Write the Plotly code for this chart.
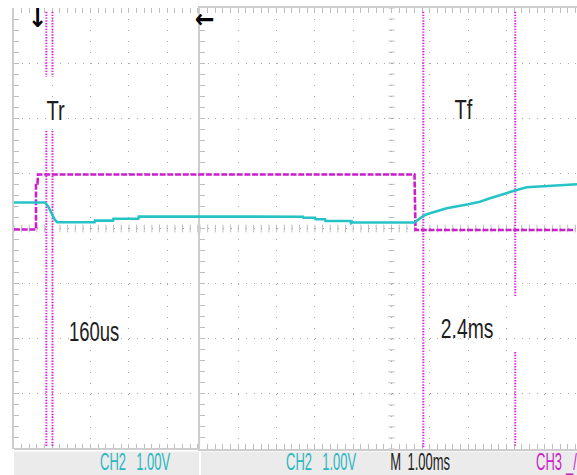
import json
import plotly.graph_objects as go

# ---------------- data (time in ms from the left screen edge, amplitude in divisions) ----------------
ch3_t = [0.000, 0.574, 0.574, 0.614, 0.627, 10.457, 10.483, 14.648]
ch3_v = [-0.018, -0.018, 0.817, 0.817, 0.980, 0.980, -0.027, -0.027]

ch2_t = [0.000, 0.809, 0.896, 0.984, 1.070, 1.131, 2.102, 2.115, 2.585, 2.598, 3.245, 3.258,
         7.546, 7.559, 7.859, 7.872, 8.120, 8.133, 8.773, 8.799, 8.825, 8.851, 10.457,
         10.601, 10.731, 10.862, 10.992, 11.298, 11.862, 12.167, 12.428, 12.689, 12.950,
         13.125, 13.386, 13.909, 14.700]
ch2_v = [0.472, 0.472, 0.396, 0.276, 0.154, 0.113, 0.113, 0.142, 0.142, 0.178, 0.178, 0.218,
         0.214, 0.194, 0.194, 0.169, 0.169, 0.136, 0.136, 0.100, 0.127, 0.109, 0.109,
         0.185, 0.245, 0.276, 0.305, 0.367, 0.439, 0.486, 0.548, 0.608, 0.668,
         0.699, 0.748, 0.771, 0.802]

# cursor positions (ms) and the visible vertical spans of each cursor (divisions)
cursor_t = [0.845, 1.005, 10.687, 13.087]
cursor_spans = [
    [(3.93, 2.755), (1.77, -3.97)],
    [(3.93, 2.755), (1.77, -3.97)],
    [(3.93, -3.97)],
    [(3.93, -1.243), (-2.241, -3.97)],
]

# measurement labels
label_text = ["Tr", "Tf", "160us", "2.4ms"]
label_t = [1.084, 11.749, 2.097, 11.815]
label_v = [2.142, 2.151, -1.873, -1.806]

# trigger markers
marker_text = ["↓", "←"]
marker_t = [0.614, 4.987]
marker_v = [3.82, 3.80]

# readout bar
readout_text = ["CH2", "1.00V", "CH2", "1.00V", "M", "1.00ms", "CH3", "_/"]
readout_x = [0.1758, 0.2475, 0.5068, 0.5790, 0.6776, 0.7359, 0.9506, 0.9911]

# ---------------- styling / geometry ----------------
W, H = 577, 475
ML, MR, MT, MB = 14, 0, 8, 26
PLOT_W = W - ML - MR
PLOT_H = H - MT - MB
PX_PER_MS = 38.3
LEFT_W = 186                     # width of left screen piece in px
SPLIT = LEFT_W / PLOT_W

CYAN = "#26c3c6"
MAGENTA = "#cc1fcc"
CURSOR = "#d926d9"
TXT_CYAN = "#2ab7c2"
TXT_MAG = "#c71ec7"
GRID = "#a8a8a8"
FRAME = "#cdcdcd"
TICK = "#bdbdbd"

fig = go.Figure()

# cursors
cx, cy = [], []
for t, spans in zip(cursor_t, cursor_spans):
    for top, bot in spans:
        cx += [t, t, None]
        cy += [top, bot, None]
fig.add_trace(go.Scatter(x=cx, y=cy, mode="lines", xaxis="x3", yaxis="y3",
                         line=dict(color=CURSOR, width=2, dash="1.4px,1.4px"),
                         hoverinfo="skip"))

fig.add_trace(go.Scatter(x=ch3_t, y=ch3_v, mode="lines", xaxis="x3", yaxis="y3",
                         line=dict(color=MAGENTA, width=2.6, dash="6px,1.7px"),
                         hoverinfo="skip", name="CH3"))
fig.add_trace(go.Scatter(x=ch2_t, y=ch2_v, mode="lines", xaxis="x3", yaxis="y3",
                         line=dict(color=CYAN, width=2.6),
                         hoverinfo="skip", name="CH2"))

tick_common = dict(ticks="inside", ticklen=5, tickcolor=TICK, tickwidth=1,
                   tickmode="linear", tick0=0, dtick=1, showticklabels=False,
                   zeroline=False, showgrid=True, gridcolor=GRID, gridwidth=1,
                   minor=dict(tick0=0, dtick=0.2, ticks="inside", ticklen=5,
                              tickcolor=TICK, tickwidth=1, showgrid=False),
                   fixedrange=True)

fig.update_layout(
    width=W, height=H,
    margin=dict(l=ML, r=MR, t=MT, b=MB, pad=0),
    paper_bgcolor="white", plot_bgcolor="rgba(0,0,0,0)",
    showlegend=False, hovermode=False,
    xaxis=dict(domain=[0, SPLIT], range=[0, LEFT_W / PX_PER_MS], anchor="y",
               griddash="1px,10.02px", showline=False, mirror="ticks", **tick_common),
    xaxis2=dict(domain=[SPLIT, 1], range=[0, (PLOT_W - LEFT_W) / PX_PER_MS], anchor="y2",
                griddash="1px,10.02px", showline=True, linecolor=FRAME, linewidth=2,
                mirror="allticks", **tick_common),
    yaxis=dict(domain=[0, 1], range=[-4, 4], anchor="x", griddash="1px,6.66px",
               showline=True, linecolor=FRAME, linewidth=2, **tick_common),
    yaxis2=dict(domain=[0, 1], range=[-4, 4], anchor="x2", griddash="1px,6.66px",
                showline=True, linecolor=FRAME, linewidth=2, **tick_common),
    xaxis3=dict(domain=[0, 1], range=[0, PLOT_W / PX_PER_MS], anchor="y3",
                visible=False, fixedrange=True),
    yaxis3=dict(domain=[0, 1], range=[-4, 4], anchor="x3", visible=False, fixedrange=True),
)

shapes = []
# bottom frame line of the left piece
shapes.append(dict(type="line", xref="paper", yref="paper", x0=0, x1=SPLIT, y0=0, y1=0,
                   line=dict(color=FRAME, width=2), layer="above"))
# centre-line ticks (horizontal centre line, both pieces)
def hticks(n_max, step=0.2, half=0.07):
    p = ""
    k = 0
    while k * step <= n_max + 1e-9:
        t = k * step
        p += f"M{t:.3f},{-half} L{t:.3f},{half} "
        k += 1
    return p
shapes.append(dict(type="path", xref="x", yref="y", path=hticks(LEFT_W / PX_PER_MS),
                   line=dict(color=TICK, width=1), layer="below"))
shapes.append(dict(type="path", xref="x2", yref="y2", path=hticks((PLOT_W - LEFT_W) / PX_PER_MS),
                   line=dict(color=TICK, width=1), layer="below"))
# vertical centre line ticks of the right piece
vp = ""
for k in range(-20, 21):
    v = k * 0.2
    vp += f"M4.92,{v:.2f} L5.08,{v:.2f} "
shapes.append(dict(type="path", xref="x2", yref="y2", path=vp,
                   line=dict(color=TICK, width=1), layer="below"))
# readout bar
bar_top = -2.5 / PLOT_H
bar_bot = -(MB + 2) / PLOT_H
gap0 = (LEFT_W - 1) / PLOT_W
gap1 = (LEFT_W + 1) / PLOT_W
for a, b in [(0, gap0), (gap1, 1.01)]:
    shapes.append(dict(type="rect", xref="paper", yref="paper", x0=a, x1=b,
                       y0=bar_bot, y1=bar_top, fillcolor="#ebebeb",
                       line=dict(width=0), layer="below"))
fig.update_layout(shapes=shapes)

annotations = []
scales = []
for txt, t, v, s in zip(label_text, label_t, label_v, [0.72, 0.72, 0.66, 0.69]):
    annotations.append(dict(text=txt, x=t, y=v, xref="x3", yref="y3", showarrow=False,
                            xanchor="center", yanchor="middle",
                            font=dict(family="Liberation Sans, Arial, sans-serif",
                                      size=28, color="#1e1e1e")))
    scales.append(s)
for txt, t, v in zip(marker_text, marker_t, marker_v):
    annotations.append(dict(text=f"<b>{txt}</b>", x=t, y=v, xref="x3", yref="y3",
                            showarrow=False, xanchor="center", yanchor="middle",
                            font=dict(family="DejaVu Sans, sans-serif", size=26,
                                      color="black")))
    scales.append(0.9)
readout_colors = [TXT_CYAN, TXT_CYAN, TXT_CYAN, TXT_CYAN, "#222222", "#222222", TXT_MAG, TXT_MAG]
ry = -(461.7 - (MT + PLOT_H)) / PLOT_H
for txt, x, c in zip(readout_text, readout_x, readout_colors):
    annotations.append(dict(text=txt, x=x, y=ry, xref="paper", yref="paper",
                            showarrow=False, xanchor="center", yanchor="middle",
                            font=dict(family="Liberation Sans, Arial, sans-serif",
                                      size=23, color=c)))
    scales.append(0.565)
fig.update_layout(annotations=annotations)

post = """
document.documentElement.style.margin = '0';
document.documentElement.style.padding = '0';
document.body.style.margin = '0';
document.body.style.padding = '0';
document.body.style.overflow = 'hidden';
var gd = document.getElementById('{plot_id}');
var sx = %s;
function squeeze(){
  gd.querySelectorAll('g.annotation').forEach(function(g){
    var i = +g.getAttribute('data-index');
    var t = g.querySelector('text.annotation-text');
    if(t && sx[i] !== undefined){
      t.style.transformBox = 'fill-box';
      t.style.transformOrigin = 'center';
      t.style.transform = 'scaleX(' + sx[i] + ')';
    }
  });
}
squeeze();
if (gd.on) { gd.on('plotly_afterplot', squeeze); }
""" % json.dumps(scales)

fig.write_html("out.html", config=dict(displayModeBar=False, staticPlot=True),
               post_script=post)
